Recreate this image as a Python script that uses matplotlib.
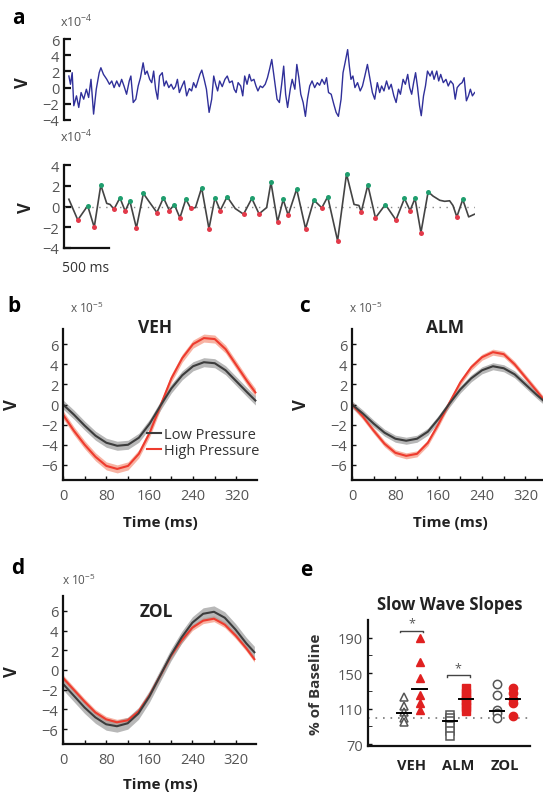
import matplotlib
matplotlib.use("Agg")
import matplotlib.pyplot as plt
import numpy as np

plt.rcParams['font.family'] = ['Open Sans', 'DejaVu Sans']
plt.rcParams['mathtext.fontset'] = 'custom'
plt.rcParams['mathtext.rm'] = 'Open Sans'

W, H = 543, 803
fig = plt.figure(figsize=(W / 100, H / 100), dpi=100)

TICKC = '#555555'

# ---------------- data ----------------
# panel a: raw trace (time ms, value x1e-4 V)
raw_t = [0, 20, 41, 61, 94, 122, 151, 183, 216, 244, 273, 305, 338, 374, 395, 427, 468, 501, 529, 558,
         590, 623, 651, 680, 712, 745, 765, 794, 826, 855, 883, 916, 940, 965, 997, 1022, 1046, 1070, 1095, 1119,
         1152, 1176, 1201, 1233, 1262, 1290, 1315, 1339, 1363, 1396, 1424, 1453, 1486, 1514, 1538, 1567, 1591, 1616, 1640, 1669,
         1697, 1730, 1762, 1787, 1811, 1835, 1860, 1892, 1925, 1954, 1982, 2015, 2039, 2063, 2088, 2120, 2145, 2169, 2198, 2226,
         2251, 2283, 2308, 2332, 2361, 2389, 2422, 2450, 2475, 2503, 2536, 2568, 2597, 2625, 2650, 2674, 2698, 2731, 2755, 2788,
         2812, 2837, 2861, 2890, 2918, 2943, 2971, 3000, 3032, 3065, 3093, 3122, 3154, 3179, 3203, 3236, 3268, 3297, 3325, 3358,
         3382, 3407, 3439, 3460, 3480, 3504, 3529, 3561, 3594, 3622, 3651, 3683, 3716, 3744, 3773, 3805, 3834, 3858, 3887, 3919,
         3948, 3976, 4009, 4037, 4066, 4090, 4123, 4151, 4180, 4204, 4229, 4253, 4277, 4302, 4326, 4347, 4375, 4399, 4424, 4457,
         4481, 4505, 4538, 4562, 4587, 4619, 4652, 4680, 4709, 4741, 4766, 4790, 4823, 4851, 4876, 4904, 4929, 4953, 4978, 5006]
raw_v = [1.43, 0.41, 1.84, -2.24, -1.02, -2.45, -0.61, -1.43, -0.20, -1.22, 1.02, -3.27, -0.20, 1.84, 2.45, 1.63, 1.02, 0.41, 0.82, 0.0,
         0.82, 0.12, 1.02, 0.20, -0.82, 0.82, 1.43, -1.84, -1.43, 0.20, 1.22, 3.06, 1.63, 2.04, 1.02, 0.61, 2.04, -0.20, -1.43, 1.43,
         1.84, 0.20, 0.82, 0.0, 0.41, -0.20, 0.12, 1.02, -0.61, 0.20, 0.82, -1.02, -0.12, -0.41, 0.61, 0.0, 0.82, 1.63, 2.16, 1.02,
         -0.20, -3.06, -1.43, 1.43, 0.41, -0.41, 0.82, 0.12, 1.02, 1.43, 0.61, 0.82, -0.20, -0.61, 0.61, 0.20, -1.02, 1.43, 0.41, 1.63,
         0.82, 1.02, 0.20, -0.41, 0.20, 0.0, 0.41, 1.22, 2.24, 3.47, 1.02, -1.43, -1.84, 0.41, 2.65, -0.82, -2.45, -0.20, 1.02, -0.20,
         2.86, 1.22, -0.82, -1.84, -3.55, -1.43, 0.20, 0.82, 0.0, 0.61, 0.29, 1.02, 0.41, 1.22, -0.61, -0.82, -2.04, -3.06, -3.55, -1.43,
         1.84, 3.06, 4.69, 2.65, 1.02, 1.43, 0.0, 0.61, -0.41, 0.20, 1.43, 2.86, 1.02, -0.61, -1.43, 0.61, -0.61, 0.20, -0.41, 0.82,
         -0.20, 0.41, -1.02, -1.84, -0.20, -0.82, 1.02, 0.41, 1.63, 0.0, -0.82, 0.61, 1.84, 0.0, -2.24, -3.47, -1.02, 0.20, 2.04, 1.43,
         2.04, 1.02, 2.04, 0.82, 1.63, 0.61, 1.02, 0.20, 0.82, 0.41, -1.43, 0.0, 0.41, 0.61, 1.22, -1.63, -1.02, -0.20, -1.02, -0.61]

# panel a: filtered trace (time ms, value x1e-4 V); kind: 'p' peak, 't' trough, '' none
filt_t = [0, 110, 232, 313, 394, 467, 508, 557, 630, 695, 752, 833, 919, 996, 1086, 1167, 1240, 1301, 1370, 1443,
          1504, 1562, 1638, 1728, 1802, 1867, 1952, 2053, 2155, 2257, 2346, 2440, 2493, 2574, 2644, 2705, 2810, 2920, 3022, 3120,
          3193, 3315, 3425, 3518, 3578, 3607, 3688, 3782, 3904, 4035, 4140, 4209, 4270, 4343, 4432, 4493, 4575, 4636, 4697, 4738,
          4786, 4859, 4932, 5002]
filt_v = [0.7, -1.3, 0.07, -2.0, 2.07, 0.3, 0.2, -0.26, 0.84, -0.45, 0.55, -2.07, 1.26, 0.4, -0.58, 0.84, -0.39, 0.19, -1.1, 0.71,
          -0.19, -0.1, 1.81, -2.14, 0.84, -0.39, 0.94, -0.2, -0.74, 0.78, -0.71, -0.1, 2.33, -1.49, 0.68, -0.84, 1.68, -2.14, 0.62, -0.13,
          0.94, -3.3, 3.14, 0.2, 0.1, -0.52, 2.07, -1.1, 0.19, -1.3, 0.78, -0.39, 0.78, -2.52, 1.42, 1.0, 0.6, 0.5, 0.55, 0.1,
          -1.0, 0.68, -1.0, -0.75]
filt_kind = ['', 't', 'p', 't', 'p', '', '', 't', 'p', 't', 'p', 't', 'p', '', 't', 'p', 't', 'p', 't', 'p',
             't', '', 'p', 't', 'p', 't', 'p', '', 't', 'p', 't', '', 'p', 't', 'p', 't', 'p', 't', 'p', 't',
             'p', 't', 'p', '', '', 't', 'p', 't', 'p', 't', 'p', 't', 'p', 't', 'p', '', '', '', '', '',
             't', 'p', '', '']

# panels b-d: averaged slow waves (time ms, value x1e-5 V)
wave_t = [0, 20, 40, 60, 80, 100, 120, 140, 160, 180, 200, 220, 240, 260, 280, 300, 320, 340, 355]
veh_low = [0, -1.0, -2.1, -3.1, -3.8, -4.1, -4.0, -3.3, -1.9, -0.1, 1.6, 2.9, 3.8, 4.2, 4.1, 3.4, 2.3, 1.2, 0.4]
veh_high = [-1.0, -2.6, -4.0, -5.2, -6.1, -6.4, -6.1, -4.9, -2.8, -0.1, 2.6, 4.6, 6.0, 6.6, 6.5, 5.5, 3.9, 2.3, 1.2]
alm_low = [0, -0.9, -1.9, -2.8, -3.4, -3.6, -3.4, -2.7, -1.4, 0.1, 1.5, 2.6, 3.4, 3.8, 3.6, 3.0, 2.0, 1.0, 0.3]
alm_high = [0, -1.2, -2.6, -3.9, -4.8, -5.1, -4.9, -3.8, -1.9, 0.2, 2.2, 3.7, 4.7, 5.2, 5.0, 4.0, 2.7, 1.4, 0.4]
zol_low = [-1.4, -2.6, -3.8, -4.8, -5.5, -5.7, -5.4, -4.4, -2.7, -0.6, 1.5, 3.3, 4.8, 5.7, 5.9, 5.3, 4.1, 2.7, 1.8]
zol_high = [-0.8, -2.0, -3.2, -4.3, -5.0, -5.3, -5.1, -4.2, -2.6, -0.6, 1.4, 3.0, 4.3, 5.0, 5.2, 4.6, 3.5, 2.2, 1.1]
sem_low = [0.45, 0.35, 0.6]
sem_high = [0.4, 0.3, 0.3]

# panel e: slow wave slopes (% of baseline)
groups = ['VEH', 'ALM', 'ZOL']
low_vals = [[123, 113, 106, 100, 95],
            [103, 99, 96, 91, 85, 79],
            [138, 126, 109, 105, 100]]
high_vals = [[190, 163, 145, 126, 117, 109],
             [133, 128, 124, 120, 116, 112, 108],
             [133, 128, 121, 116, 102]]
low_mean = [105.6, 96.0, 107.5]
high_mean = [131.9, 120.6, 121.0]
markers = ['^', 's', 'o']

# ---------------- helpers ----------------
def px_axes(left, top, right, bottom):
    return fig.add_axes([left / W, 1 - bottom / H, (right - left) / W, (bottom - top) / H])

def style_axes(ax):
    for s in ['top', 'right']:
        ax.spines[s].set_visible(False)
    for s in ['left', 'bottom']:
        ax.spines[s].set_linewidth(1.6)
        ax.spines[s].set_color('#111111')
    ax.tick_params(direction='in', length=3, width=1.0, colors='#111111',
                   labelcolor=TICKC, labelsize=10.5)

def ftext(x, y, s, **kw):
    fig.text(x / W, 1 - y / H, s, **kw)

GREY_LINE = '#3c3c3c'
GREY_BAND = '#9a9a9a'
RED_LINE = '#ee3b2e'
RED_BAND = '#f59a85'

# ---------------- panel a ----------------
ax1 = px_axes(64, 40, 475, 121)
ax1.plot(raw_t, raw_v, color='#30309a', lw=1.0)
ax1.set_xlim(-60, 5010)
ax1.set_ylim(-4, 6)
ax1.set_yticks([-4, -2, 0, 2, 4, 6])
style_axes(ax1)
ax1.spines['bottom'].set_visible(False)
ax1.set_xticks([])
ax1.tick_params(axis='y', length=5, width=1.6)

ax2 = px_axes(64, 166, 475, 249)
ax2.axhline(0, color='#888888', lw=1.0, ls=(0, (1, 4)))
ax2.plot(filt_t, filt_v, color='#444444', lw=1.2)
pk_t = [t for t, k in zip(filt_t, filt_kind) if k == 'p']
pk_v = [v for v, k in zip(filt_v, filt_kind) if k == 'p']
tr_t = [t for t, k in zip(filt_t, filt_kind) if k == 't']
tr_v = [v for v, k in zip(filt_v, filt_kind) if k == 't']
ax2.plot(pk_t, pk_v, 'o', color='#1f9e6e', ms=3.6, mec='none')
ax2.plot(tr_t, tr_v, 'o', color='#e23a4a', ms=3.6, mec='none')
ax2.set_xlim(-60, 5010)
ax2.set_ylim(-4, 4)
ax2.set_yticks([-4, -2, 0, 2, 4])
style_axes(ax2)
ax2.tick_params(axis='y', length=5, width=1.6)
ax2.set_xticks([])
ax2.spines['bottom'].set_bounds(-60, 500)

ftext(18, 18, 'a', fontsize=15, fontweight='bold', ha='center', va='center')
ftext(60, 22, r'x10$^{-4}$', fontsize=9, color=TICKC, ha='left', va='center')
ftext(60, 137, r'x10$^{-4}$', fontsize=9, color=TICKC, ha='left', va='center')
ftext(23, 83, 'V', fontsize=12, fontweight='bold', rotation=90, ha='center', va='center', color='#222222')
ftext(26, 208, 'V', fontsize=12, fontweight='bold', rotation=90, ha='center', va='center', color='#222222')
ftext(86, 268, '500 ms', fontsize=10, color='#333333', ha='center', va='center')

# ---------------- panels b-d ----------------
def wave_panel(box, low, high, sl, sh, title, title_xy, letter, letter_xy, sci_xy, ylab_xy, xlab_xy, legend=False):
    ax = px_axes(*box)
    lo = np.array(low)
    hi = np.array(high)
    ax.fill_between(wave_t, hi - sh, hi + sh, color=RED_BAND, alpha=0.75, lw=0)
    ax.fill_between(wave_t, lo - sl, lo + sl, color=GREY_BAND, alpha=0.7, lw=0)
    l2, = ax.plot(wave_t, hi, color=RED_LINE, lw=1.5)
    l1, = ax.plot(wave_t, lo, color=GREY_LINE, lw=1.5)
    ax.set_xlim(0, 358)
    ax.set_ylim(-7.5, 7.5)
    ax.set_xticks([0, 80, 160, 240, 320])
    ax.set_xticks([40, 120, 200, 280], minor=True)
    ax.set_yticks([-6, -4, -2, 0, 2, 4, 6])
    style_axes(ax)
    ax.tick_params(which='minor', direction='in', length=3, width=1.0, colors='#111111')
    ax.tick_params(axis='x', pad=6)
    ftext(*title_xy, title, fontsize=12.5, fontweight='bold', ha='center', va='center', color='#222222')
    ftext(*letter_xy, letter, fontsize=15, fontweight='bold', ha='center', va='center')
    ftext(*sci_xy, r'x 10$^{-5}$', fontsize=8.5, color=TICKC, ha='left', va='center')
    ftext(*ylab_xy, 'V', fontsize=12, fontweight='bold', rotation=90, ha='center', va='center', color='#222222')
    ftext(*xlab_xy, 'Time (ms)', fontsize=11, fontweight='bold', ha='center', va='center', color='#222222')
    if legend:
        ax.legend([l1, l2], ['Low Pressure', 'High Pressure'], loc='lower right',
                  bbox_to_anchor=(1.08, 0.06), frameon=False, fontsize=10.5,
                  handlelength=1.0, handletextpad=0.2, labelspacing=0.05,
                  labelcolor='#333333')
    return ax

wave_panel((63, 330, 257, 481), veh_low, veh_high, sem_low[0], sem_high[0], 'VEH', (155, 328),
           'b', (14, 307), (70, 308), (12, 405), (160, 523), legend=True)
wave_panel((352, 330, 546, 481), alm_low, alm_high, sem_low[1], sem_high[1], 'ALM', (445, 328),
           'c', (304, 307), (349, 308), (301, 405), (450, 523))
wave_panel((63, 597, 256, 745), zol_low, zol_high, sem_low[2], sem_high[2], 'ZOL', (156, 612),
           'd', (18, 568), (62, 580), (12, 672), (160, 785))

# ---------------- panel e ----------------
axe = px_axes(368, 621, 530, 747)
axe.axhline(100, color='#777777', lw=1.2, ls=(0, (1, 3.5)))
for i, g in enumerate(groups):
    x0 = i + 1
    axe.plot([x0 - 0.17] * len(low_vals[i]), low_vals[i], markers[i], mfc='white', mec='#555555',
             mew=1.1, ms=6, ls='none')
    axe.plot([x0 + 0.17] * len(high_vals[i]), high_vals[i], markers[i], mfc='#e02020', mec='#e02020',
             ms=6, ls='none')
    axe.plot([x0 - 0.32, x0 - 0.02], [low_mean[i]] * 2, color='black', lw=1.4)
    axe.plot([x0 + 0.02, x0 + 0.32], [high_mean[i]] * 2, color='black', lw=1.4)
# significance brackets
for i, yb in [(0, 198), (1, 148)]:
    x0 = i + 1
    axe.plot([x0 - 0.25, x0 - 0.25, x0 + 0.25, x0 + 0.25], [yb - 2, yb, yb, yb - 2], color='#444444', lw=1.0)
    axe.text(x0, yb + 1, '*', ha='center', va='bottom', fontsize=9, color='#555555')
axe.set_xlim(0.07, 3.53)
axe.set_ylim(68, 210)
axe.set_yticks([70, 110, 150, 190])
axe.set_yticks([90, 130, 170], minor=True)
axe.set_xticks([1, 2, 3])
axe.set_xticklabels(groups, fontweight='bold', color='#222222', fontsize=11)
style_axes(axe)
axe.tick_params(axis='x', length=0, pad=9, labelcolor='#222222')
axe.tick_params(which='minor', direction='in', length=3, colors='#111111')
ftext(306, 571, 'e', fontsize=15, fontweight='bold', ha='center', va='center')
ftext(450, 605, 'Slow Wave Slopes', fontsize=12, fontweight='bold', ha='center', va='center', color='#222222')
ftext(316, 684, '% of Baseline', fontsize=11, fontweight='bold', rotation=90, ha='center', va='center', color='#333333')

fig.savefig('out.png', dpi=100)
